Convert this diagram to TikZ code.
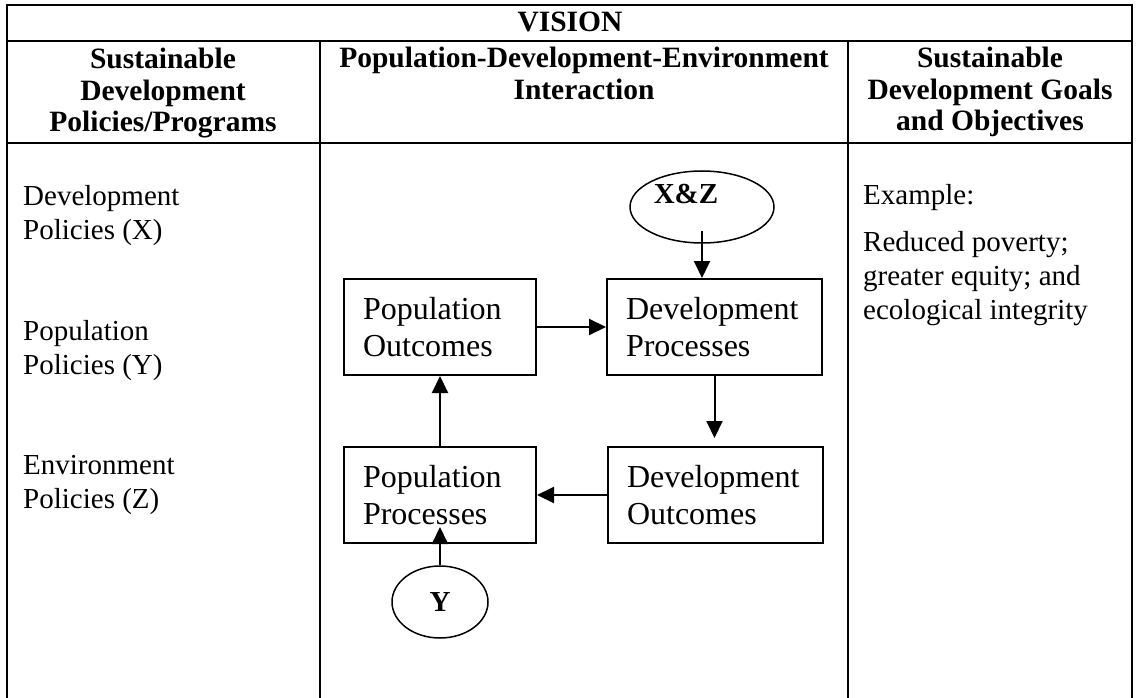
\documentclass[tikz,border=0pt]{standalone}
\usepackage{fontspec}
\setmainfont{Liberation Serif}
\usetikzlibrary{shapes.geometric,arrows.meta}

\begin{document}
\begin{tikzpicture}[x=1pt, y=-1pt,
        rule/.style={line width=2.3pt},
        head/.style={font=\bfseries\fontsize{29.5}{31.5}\selectfont, align=center, anchor=north, inner sep=0pt},
        body/.style={font=\fontsize{29}{34}\selectfont, align=left, anchor=north west, inner sep=0pt},
        block/.style={draw, line width=2pt, font=\fontsize{32}{37}\selectfont, align=left, inner xsep=19pt, inner ysep=0pt, minimum height=96pt},
        oval/.style={draw, ellipse, line width=1.5pt, inner sep=0pt, font=\bfseries\fontsize{29}{34}\selectfont},
        link/.style={line width=2pt, -{Triangle[length=17pt,width=16pt]}}]
        \useasboundingbox (0,0) rectangle (1138,698);
        % table
        \draw [rule] (7,698) -- (7,5) -- (1132,5) -- (1132,698);
        \draw [rule] (7,41) -- (1132,41);
        \draw [rule] (7,143) -- (1132,143);
        \draw [rule] (320,41) -- (320,698);
        \draw [rule] (848,41) -- (848,698);
        \node [font=\bfseries\fontsize{29.5}{31.5}\selectfont, inner sep=0pt, anchor=base] (vision) at (570,32) {VISION};
        \node [head] (policyhead) at (163,48) {Sustainable\\Development\\Policies/Programs};
        \node [head] (pdehead) at (584,47) {Population-Development-Environment\\Interaction};
        \node [head] (goalhead) at (990,47) {Sustainable\\Development Goals\\and Objectives};
        % left and right columns
        \node [body] (devpol) at (23,185) {Development\\Policies (X)};
        \node [body] (poppol) at (23,320) {Population\\Policies (Y)};
        \node [body] (envpol) at (23,455) {Environment\\Policies (Z)};
        \node [body] (goals) at (863,184) {Example:\\[13pt]Reduced poverty;\\greater equity; and\\ecological integrity};
        % interaction loop
        \node [block, text width=154pt] (popout) at (440,327) {Population\\Outcomes};
        \node [block, text width=177pt] (devproc) at (714.5,327) {Development\\Processes};
        \node [block, text width=154pt] (popproc) at (440,495) {Population\\Processes};
        \node [block, text width=177pt] (devout) at (715.5,495) {Development\\Outcomes};
        \node [oval, minimum width=144pt, minimum height=72pt] (xz) at (702,207) {};
        \node [font=\bfseries\fontsize{29}{34}\selectfont, inner sep=0pt, anchor=base] (xzlabel) at (686,203) {X\&Z};
        \node [oval, minimum width=96pt, minimum height=72pt] (ypol) at (440,602) {Y};
        \coordinate (dotop) at ([yshift=8pt]devout.north);
        \draw [link] ([yshift=13pt]xz.south) -- (xz.south |- devproc.north);
        \draw [link] (popout.east) -- (devproc.west);
        \draw [link] (devproc.south) -- (devproc.south |- dotop);
        \draw [link] (devout.west) -- (popproc.east);
        \draw [link] (popproc.north) -- (popout.south);
        \draw [link] (ypol.north) -- ([yshift=17pt]popproc.south);
    \end{tikzpicture}
\end{document}
